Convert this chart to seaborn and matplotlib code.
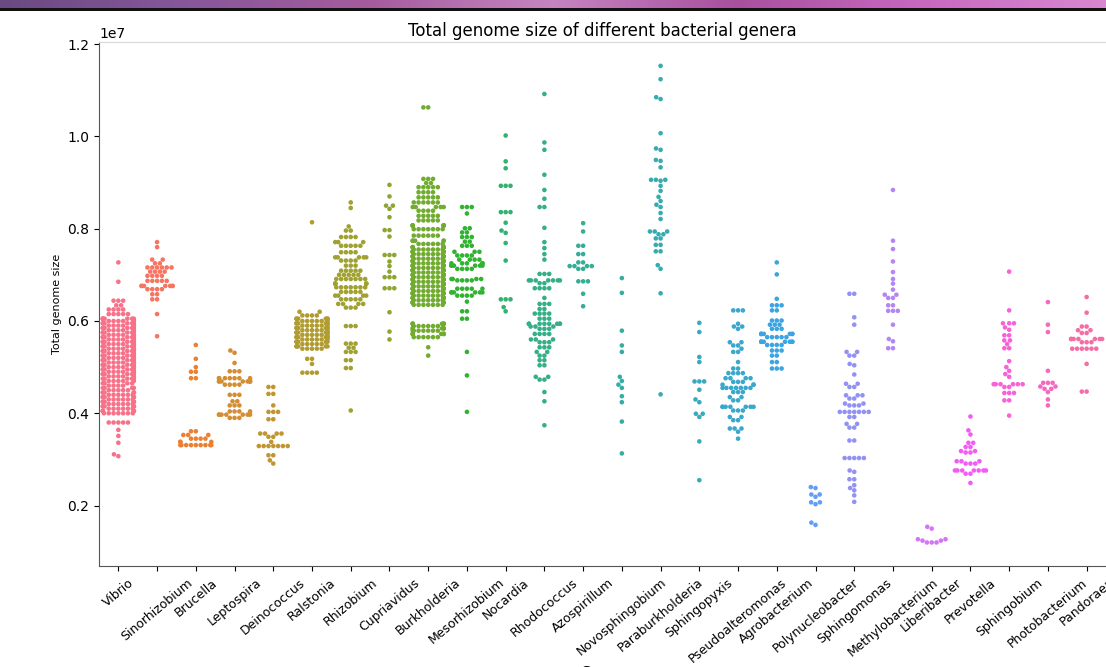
import warnings
import numpy as np
import pandas as pd
import seaborn as sns
import matplotlib.pyplot as plt
from matplotlib.colors import LinearSegmentedColormap

warnings.filterwarnings("ignore")

# genome sizes in Mb, as (size, number of genomes)
vibrio = [(7.27, 1), (6.85, 1), (6.44, 3), (6.34, 2), (6.25, 4), (6.15, 5), (6.05, 7),
          (6.0, 6), (5.95, 6), (5.9, 6), (5.85, 6), (5.8, 6), (5.75, 6), (5.7, 6), (5.65, 6),
          (5.6, 6), (5.55, 6), (5.5, 6), (5.45, 6), (5.4, 6), (5.35, 6), (5.3, 6), (5.25, 6),
          (5.2, 6), (5.15, 6), (5.1, 6), (5.05, 6), (5.0, 6), (4.95, 6), (4.9, 6), (4.85, 6),
          (4.8, 5), (4.75, 5), (4.7, 5), (4.65, 4), (4.6, 4), (4.55, 4), (4.5, 5), (4.45, 6),
          (4.4, 6), (4.35, 6), (4.3, 6), (4.25, 6), (4.2, 6), (4.15, 6), (4.1, 6), (4.05, 6),
          (4.0, 7), (3.8, 5), (3.64, 1), (3.51, 1), (3.36, 1), (3.11, 1), (3.07, 1)]
sinorhizobium = [(7.71, 1), (7.6, 1), (7.33, 2), (7.25, 2), (7.16, 6), (7.07, 4), (6.98, 4),
                 (6.87, 5), (6.76, 7), (6.69, 4), (6.58, 2), (6.47, 2), (6.15, 1), (5.67, 1)]
brucella = [(5.48, 1), (5.18, 1), (5.0, 1), (4.9, 2), (4.76, 2), (3.61, 2), (3.53, 3),
            (3.45, 4), (3.38, 3), (3.31, 9)]
leptospira = [(5.36, 1), (5.31, 1), (5.09, 1), (4.91, 3), (4.76, 7), (4.69, 8), (4.62, 4),
              (4.40, 3), (4.26, 2), (4.17, 3), (4.04, 4), (3.97, 7), (3.90, 3)]
deinococcus = [(4.57, 2), (4.42, 2), (4.17, 1), (4.03, 3), (3.87, 2), (3.56, 4), (3.49, 2),
               (3.38, 1), (3.29, 7), (3.09, 2), (2.98, 1), (2.91, 1)]
ralstonia = [(8.14, 1), (6.2, 2), (6.12, 4), (6.05, 6), (6.0, 6), (5.95, 6), (5.9, 6),
             (5.85, 6), (5.8, 6), (5.75, 6), (5.7, 6), (5.65, 6), (5.6, 6), (5.55, 5),
             (5.5, 5), (5.45, 5), (5.4, 5), (5.18, 2), (5.07, 1), (4.88, 4)]
rhizobium = [(8.57, 1), (8.45, 1), (8.05, 1), (7.96, 2), (7.82, 4), (7.71, 3), (7.63, 5),
             (7.49, 4), (7.38, 5), (7.31, 4), (7.20, 3), (7.09, 5), (7.0, 5), (6.91, 7),
             (6.81, 7), (6.73, 7), (6.63, 5), (6.55, 4), (6.47, 5), (6.37, 4), (6.29, 3),
             (5.89, 3), (5.51, 3), (5.42, 2), (5.33, 3), (5.15, 2), (4.98, 2), (4.06, 1)]
cupriavidus = [(8.95, 1), (8.70, 1), (8.50, 2), (8.43, 1), (8.25, 1), (7.97, 2), (7.83, 1),
               (7.43, 3), (7.29, 1), (7.19, 1), (7.07, 1), (6.95, 3), (6.71, 3), (6.19, 1),
               (5.77, 1), (5.60, 1)]
burkholderia = [(10.63, 2), (9.08, 3), (8.99, 2), (8.90, 5), (8.79, 4), (8.68, 5), (8.57, 6),
                (8.47, 5), (8.39, 4), (8.28, 5), (8.18, 5), (8.07, 8), (7.99, 7), (7.85, 6),
                (7.74, 5), (7.67, 6), (7.60, 7),
                (7.55, 7), (7.5, 7), (7.45, 7), (7.4, 7), (7.35, 7), (7.3, 7), (7.25, 7),
                (7.2, 7), (7.15, 7), (7.1, 7), (7.05, 7), (7.0, 7), (6.95, 7), (6.9, 7),
                (6.85, 7), (6.8, 7), (6.75, 7), (6.7, 7), (6.65, 7), (6.6, 7), (6.55, 7),
                (6.5, 7), (6.45, 7), (6.4, 7), (6.35, 7), (5.94, 7), (5.89, 6), (5.84, 6),
                (5.79, 7), (5.72, 7), (5.65, 6), (5.43, 1), (5.25, 1)]
mesorhizobium = [(8.47, 3), (8.33, 1), (8.01, 2), (7.92, 2), (7.82, 3), (7.72, 2), (7.63, 3),
                 (7.5, 3), (7.42, 4), (7.33, 4), (7.25, 5), (7.2, 6), (7.13, 4), (6.91, 4),
                 (6.88, 4), (6.7, 5), (6.62, 6), (6.55, 4), (6.42, 1), (6.21, 2), (6.05, 2),
                 (5.33, 1), (4.82, 1), (4.03, 1)]
nocardia = [(10.02, 1), (9.46, 1), (9.31, 1), (8.93, 3), (8.36, 3), (8.13, 1), (7.96, 1),
            (7.91, 1), (7.69, 1), (7.31, 1), (6.47, 3), (6.30, 1), (6.21, 1)]
rhodococcus = [(10.92, 1), (9.87, 1), (9.71, 1), (9.17, 1), (8.84, 1), (8.65, 1), (8.47, 2),
               (8.02, 1), (7.71, 1), (7.58, 1), (7.45, 1), (7.33, 1), (7.02, 3), (6.88, 7),
               (6.82, 2), (6.71, 4), (6.5, 1), (6.37, 3), (6.26, 2), (6.16, 4), (6.05, 3),
               (5.94, 8), (5.88, 3), (5.83, 3), (5.72, 4), (5.6, 3), (5.54, 3), (5.43, 3),
               (5.33, 2), (5.25, 2), (5.15, 2), (5.04, 2), (4.79, 2), (4.73, 2), (4.46, 1),
               (4.26, 1), (3.74, 1)]
azospirillum = [(8.12, 1), (7.94, 1), (7.63, 2), (7.45, 2), (7.27, 2), (7.19, 4), (7.13, 2),
                (6.86, 3), (6.59, 1), (6.32, 1)]
novosphingobium = [(6.93, 1), (6.61, 1), (5.79, 1), (5.47, 1), (5.33, 1), (4.79, 1), (4.70, 1),
                   (4.62, 1), (4.55, 1), (4.37, 1), (4.24, 1), (3.82, 1), (3.13, 1)]
paraburkholderia = [(11.53, 1), (11.24, 1), (10.85, 1), (10.81, 1), (10.07, 1), (9.74, 1),
                    (9.71, 1), (9.49, 1), (9.47, 1), (9.33, 1), (9.06, 3), (9.04, 1), (8.93, 1),
                    (8.82, 1), (8.69, 1), (8.6, 1), (8.52, 1), (8.47, 1), (8.34, 1), (8.21, 1),
                    (7.94, 3), (7.88, 2), (7.79, 2), (7.65, 2), (7.51, 2), (7.21, 1), (7.13, 1),
                    (6.6, 1), (4.41, 1)]
sphingopyxis = [(5.96, 1), (5.76, 1), (5.22, 1), (5.11, 1), (4.69, 3), (4.51, 1), (4.30, 1),
                (4.24, 1), (3.99, 2), (3.92, 1), (3.39, 1), (2.55, 1)]
pseudoalteromonas = [(6.23, 3), (5.94, 1), (5.88, 2), (5.83, 1), (5.54, 2), (5.47, 2),
                     (5.40, 1), (5.33, 2), (5.11, 1), (4.97, 2), (4.87, 4), (4.76, 4),
                     (4.68, 3), (4.62, 3), (4.55, 7), (4.46, 3), (4.35, 2), (4.28, 2),
                     (4.14, 7), (4.06, 3), (3.92, 2), (3.85, 2), (3.67, 3), (3.6, 1), (3.45, 1)]
agrobacterium = [(7.27, 1), (7.01, 1), (6.48, 1), (6.34, 3), (6.23, 2), (6.01, 3), (5.92, 3),
                 (5.83, 3), (5.72, 7), (5.65, 5), (5.55, 8), (5.48, 4), (5.36, 3), (5.25, 2),
                 (5.11, 2), (4.97, 3)]
polynucleobacter = [(2.40, 1), (2.38, 1), (2.24, 2), (2.19, 1), (2.07, 2), (2.03, 1),
                    (1.63, 1), (1.58, 1)]
sphingomonas = [(6.59, 2), (6.08, 1), (5.92, 1), (5.33, 2), (5.25, 2), (5.07, 1), (5.04, 1),
                (4.84, 1), (4.64, 2), (4.57, 2), (4.39, 3), (4.32, 2), (4.21, 2), (4.17, 3),
                (4.03, 7), (3.92, 2), (3.77, 2), (3.69, 2), (3.41, 2), (3.03, 5), (2.76, 1),
                (2.73, 1), (2.57, 2), (2.44, 1), (2.38, 1), (2.33, 1), (2.22, 1), (2.08, 1)]
methylobacterium = [(8.84, 1), (7.74, 1), (7.56, 1), (7.29, 1), (7.06, 1), (6.91, 1),
                    (6.81, 1), (6.68, 1), (6.57, 2), (6.50, 2), (6.34, 2), (6.22, 3), (5.92, 1),
                    (5.61, 1), (5.56, 1), (5.41, 2)]
liberibacter = [(1.54, 1), (1.50, 1), (1.27, 2), (1.24, 2), (1.20, 3)]
prevotella = [(3.93, 1), (3.63, 1), (3.54, 1), (3.36, 2), (3.27, 2), (3.18, 2), (3.15, 2),
              (2.96, 3), (2.91, 3), (2.76, 7), (2.69, 2), (2.49, 1)]
sphingobium = [(7.07, 1), (6.23, 1), (5.95, 3), (5.86, 1), (5.81, 1), (5.69, 2), (5.58, 2),
               (5.5, 1), (5.41, 2), (5.13, 1), (5.0, 1), (4.92, 1), (4.85, 1), (4.79, 1),
               (4.63, 6), (4.57, 2), (4.44, 3), (4.28, 2), (3.95, 1)]
photobacterium = [(6.41, 1), (5.92, 1), (5.76, 1), (4.92, 1), (4.66, 3), (4.58, 2), (4.53, 2),
                  (4.46, 1), (4.30, 1), (4.17, 1)]
pandoraea = [(6.52, 1), (6.18, 1), (5.88, 2), (5.8, 2), (5.74, 2), (5.61, 7), (5.54, 3),
             (5.40, 6), (5.07, 1), (4.47, 2)]

genera = ["Vibrio", "Sinorhizobium", "Brucella", "Leptospira", "Deinococcus", "Ralstonia",
          "Rhizobium", "Cupriavidus", "Burkholderia", "Mesorhizobium", "Nocardia",
          "Rhodococcus", "Azospirillum", "Novosphingobium", "Paraburkholderia",
          "Sphingopyxis", "Pseudoalteromonas", "Agrobacterium", "Polynucleobacter",
          "Sphingomonas", "Methylobacterium", "Liberibacter", "Prevotella", "Sphingobium",
          "Photobacterium", "Pandoraea"]
sizes = [vibrio, sinorhizobium, brucella, leptospira, deinococcus, ralstonia, rhizobium,
         cupriavidus, burkholderia, mesorhizobium, nocardia, rhodococcus, azospirillum,
         novosphingobium, paraburkholderia, sphingopyxis, pseudoalteromonas, agrobacterium,
         polynucleobacter, sphingomonas, methylobacterium, liberibacter, prevotella,
         sphingobium, photobacterium, pandoraea]

rows = []
for name, pairs in zip(genera, sizes):
    for mb, n in pairs:
        rows += [(name, mb * 1e6)] * n
df = pd.DataFrame(rows, columns=["Genus", "Total genome size"])

fig = plt.figure(figsize=(11.06, 6.67), dpi=100)

# screenshot strip along the top edge
grad = LinearSegmentedColormap.from_list(
    "strip", ["#6a4a82", "#87579a", "#a45c9e", "#c585c2", "#a8509e", "#c868bf", "#d788d0"])
ax_strip = fig.add_axes([0, 1 - 8 / 667, 1, 8 / 667])
ax_strip.imshow(np.linspace(0, 1, 256)[None, :], aspect="auto", cmap=grad)
ax_strip.axis("off")
ax_line = fig.add_axes([0, 1 - 11 / 667, 1, 3 / 667])
ax_line.set_facecolor("#111111")
ax_line.set_xticks([])
ax_line.set_yticks([])
for s in ax_line.spines.values():
    s.set_visible(False)

ax = fig.add_axes([0.0895, 0.151, 0.9105, 0.786])
sns.swarmplot(data=df, x="Genus", y="Total genome size", hue="Genus",
              order=genera, hue_order=genera,
              palette=sns.color_palette("husl", len(genera)),
              size=3.3, legend=False, ax=ax)

ax.set_title("Total genome size of different bacterial genera", fontsize=12, pad=4)
ax.set_ylabel("Total genome size", fontsize=8)
ax.set_xlabel("Genus", fontsize=10, labelpad=0)
ax.tick_params(axis="x", labelrotation=40, labelsize=9)
ax.tick_params(axis="y", labelsize=10)
ax.yaxis.get_offset_text().set_fontsize(10)

ax.spines["right"].set_visible(False)
ax.spines["top"].set_color("#d8d8d8")
ax.spines["left"].set_color("#555555")
ax.spines["bottom"].set_color("#555555")

fig.savefig("out.png", dpi=100)
